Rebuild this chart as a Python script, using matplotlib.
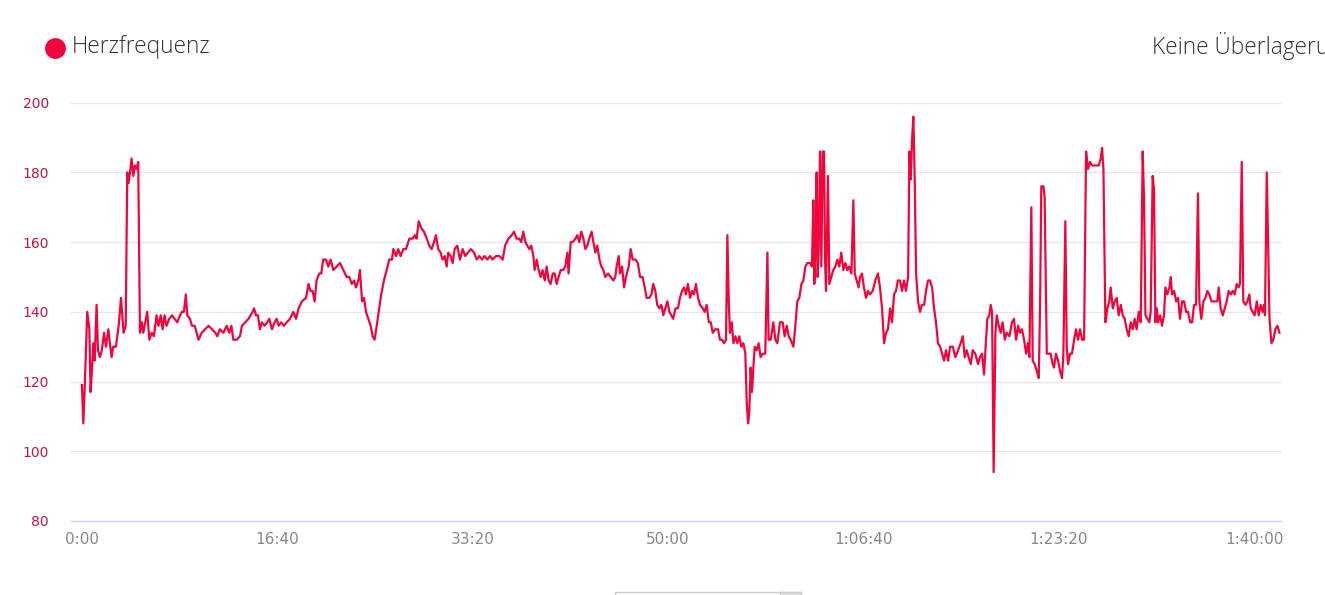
import matplotlib
matplotlib.use("Agg")
import matplotlib.pyplot as plt
from matplotlib.lines import Line2D
from matplotlib.patches import Rectangle

# Zeit in Sekunden seit Start, Herzfrequenz in bpm
zeit_s = [
    0, 7, 14, 27, 38, 44, 51, 58, 65, 75,
    82, 92, 102, 113, 123, 135, 143, 152, 160, 174,
    188, 200, 213, 224, 232, 239, 246, 254, 263, 271,
    280, 288, 297, 307, 314, 324, 334, 345, 357, 368,
    382, 392, 403, 413, 423, 433, 447, 461, 474, 488,
    502, 512, 522, 532, 539, 553, 563, 577, 587, 597,
    613, 630, 648, 666, 683, 693, 706, 724, 741, 754,
    765, 775, 792, 809, 819, 836, 853, 863, 874, 881,
    891, 901, 911, 921, 935, 949, 959, 973, 986, 997,
    1007, 1020, 1034, 1048, 1065, 1082, 1096, 1109, 1126, 1147,
    1160, 1170, 1181, 1191, 1201, 1215, 1225, 1235, 1249, 1261,
    1273, 1287, 1304,
    1321, 1338, 1355, 1369, 1381, 1393, 1403, 1415, 1423, 1434,
    1444, 1454, 1466, 1478, 1488, 1498, 1509, 1522, 1532, 1546,
    1560, 1573, 1587, 1594, 1608, 1619, 1631, 1645, 1659, 1676,
    1693, 1705, 1713, 1724, 1737, 1751, 1765, 1778, 1790, 1802,
    1812, 1824, 1836, 1846, 1857, 1867, 1875, 1887, 1898, 1908,
    1921, 1935, 1949, 1962, 1976, 1991, 2007, 2021, 2034, 2048,
    2061, 2075, 2089, 2102, 2119, 2137, 2154, 2166, 2183, 2200,
    2212, 2225, 2239, 2249, 2259, 2270, 2280, 2290, 2300, 2311,
    2317, 2328, 2338, 2348, 2358, 2369, 2379, 2389, 2399, 2410,
    2420, 2430, 2440, 2451, 2464, 2474, 2485, 2491, 2502, 2512,
    2526, 2536, 2546, 2556, 2567, 2577, 2587, 2597, 2609, 2618,
    2628, 2638, 2649, 2659, 2669, 2679, 2693, 2707, 2720, 2730,
    2737, 2748, 2754, 2765, 2775, 2785, 2799, 2809, 2819, 2833,
    2846, 2857, 2870, 2881, 2891, 2904, 2915, 2925, 2935, 2945,
    2956, 2966, 2976, 2986, 2997, 3007, 3017, 3027, 3038, 3051,
    3061, 3072, 3082, 3092, 3102, 3113, 3123, 3133, 3143, 3154,
    3164, 3178, 3188, 3198, 3209, 3219, 3229, 3242, 3256, 3266,
    3277, 3287, 3297, 3304, 3311, 3317, 3326, 3335, 3345, 3355,
    3365, 3375, 3386, 3396, 3403, 3410, 3416, 3423, 3430, 3437,
    3444, 3454, 3464, 3474, 3485, 3498, 3509, 3515, 3526, 3539,
    3550, 3560, 3573, 3587, 3597, 3608, 3618, 3628, 3642, 3652,
    3662, 3672, 3683, 3693, 3703, 3713, 3727, 3737, 3744, 3749,
    3754, 3761, 3766, 3771, 3778, 3785, 3792, 3799, 3804, 3809,
    3814, 3819, 3826, 3836, 3846, 3857, 3867, 3877, 3887, 3898,
    3908, 3918, 3928, 3939, 3949, 3956, 3966, 3976, 3983, 3993,
    4003, 4014, 4024, 4034, 4048, 4061, 4075, 4085, 4096, 4106,
    4116, 4126, 4137, 4147, 4157, 4167, 4177, 4188, 4198, 4208,
    4218, 4229, 4236, 4242, 4249, 4256, 4263, 4270, 4280, 4290,
    4300, 4311, 4321, 4331, 4341, 4352, 4362, 4372, 4382, 4393,
    4403, 4413, 4423, 4434, 4444, 4458, 4471, 4485, 4498, 4509,
    4519, 4529, 4539, 4550, 4560, 4573, 4587,
    4597, 4608, 4618, 4628, 4635, 4645, 4652, 4659, 4667, 4676,
    4683, 4693, 4703, 4713, 4724, 4734, 4748, 4761, 4771, 4782,
    4792, 4802, 4812, 4823, 4833, 4843, 4850, 4860, 4867, 4877,
    4888, 4898, 4905, 4911, 4922, 4928, 4939, 4949, 4959, 4969,
    4976, 4986, 4997, 5007, 5017, 5024, 5034, 5041, 5048, 5058,
    5068, 5079, 5089, 5099, 5109, 5120, 5130, 5140, 5150, 5161,
    5171, 5186, 5205, 5215, 5222, 5229, 5239, 5249, 5259, 5266,
    5277, 5287, 5297, 5307, 5318, 5328, 5338, 5348, 5358, 5369,
    5379, 5389, 5399, 5410, 5420, 5430, 5437, 5444, 5454, 5464,
    5471, 5481, 5488, 5495, 5502, 5509, 5519, 5529, 5539, 5546,
    5556, 5567, 5574, 5580, 5591, 5601, 5611, 5621, 5632, 5642,
    5652, 5662, 5673, 5683, 5693, 5703, 5713, 5720, 5730, 5741,
    5751, 5761, 5771, 5782, 5792, 5802, 5812, 5819, 5829, 5840,
    5850, 5860, 5870, 5881, 5891, 5901, 5911, 5921, 5928, 5937,
    5945, 5956, 5966, 5976, 5983, 5993, 6003, 6014, 6024, 6034,
    6044, 6051, 6056, 6065, 6072, 6079, 6089, 6099, 6109, 6120,
    6130,
]

herzfrequenz = [
    119, 108, 118, 140, 135, 117, 123, 131, 126, 142,
    129, 127, 129, 134, 130, 135, 131, 127, 130, 130,
    136, 144, 134, 136, 180, 177, 180, 184, 179, 182,
    181, 183, 134, 137, 134, 137, 140, 132, 134, 133,
    139, 136, 139, 135, 139, 136, 138, 139, 138, 137,
    139, 140, 140, 145, 139, 138, 136, 136, 134, 132,
    134, 135, 136, 135, 134, 133, 135, 134, 136, 134,
    136, 132, 132, 133, 136, 137, 138, 139, 140, 141,
    139, 139, 135, 137, 136, 137, 138, 135, 137, 138,
    136, 137, 136, 137, 138, 140, 138, 141, 143, 144,
    148, 146, 146, 143, 149, 151, 151, 155, 155, 153,
    155, 152, 153,
    154, 152, 150, 150, 148, 149, 147, 149, 152, 143,
    144, 140, 138, 136, 133, 132, 136, 141, 145, 149,
    152, 155, 155, 158, 156, 158, 156, 158, 158, 161,
    161, 162, 161, 166, 164, 163, 161, 159, 158, 160,
    162, 158, 157, 155, 156, 153, 157, 156, 154, 158,
    159, 155, 158, 156, 157, 158, 157, 155, 156, 155,
    156, 155, 156, 155, 156, 156, 155, 159, 161, 162,
    163, 161, 161, 160, 163, 160, 159, 158, 159, 156,
    152, 155, 152, 150, 152, 149, 153, 149, 148, 151,
    151, 148, 150, 152, 152, 153, 157, 151, 160, 160,
    161, 162, 160, 163, 161, 158, 159, 161, 163, 160,
    157, 159, 155, 153, 152, 150, 151, 150, 149, 150,
    153, 156, 151, 153, 147, 150, 153, 158, 155, 155,
    154, 150, 150, 147, 144, 144, 145, 148, 146, 142,
    141, 142, 139, 141, 143, 140, 139, 138, 141, 141,
    144, 146, 147, 145, 148, 144, 146, 145, 148, 144,
    142, 141, 140, 142, 137, 137, 134, 135, 135, 132,
    132, 131, 132, 162, 143, 134, 137, 131, 133, 131,
    133, 130, 131, 128, 114, 108, 111, 124, 117, 124,
    130, 129, 131, 127, 128, 128, 157, 132, 132, 137,
    132, 131, 137, 137, 133, 136, 133, 132, 130, 136,
    143, 144, 148, 149, 153, 154, 154, 153, 172, 148,
    156, 180, 150, 158, 186, 153, 186, 186, 155, 146,
    163, 179, 148, 150, 152, 153, 155, 153, 157, 152,
    154, 152, 153, 151, 172, 151, 149, 147, 150, 151,
    147, 144, 146, 145, 146, 149, 151, 147, 141, 131,
    134, 135, 141, 137, 145, 146, 149, 149, 146, 149,
    146, 150, 186, 178, 189, 196, 178, 151, 143, 140,
    142, 142, 146, 149, 149, 147, 141, 137, 131, 130,
    128, 126, 129, 126, 130, 130, 127, 129, 131, 133,
    127, 129, 127, 125, 129, 128, 125,
    127, 128, 122, 132, 138, 139, 142, 140, 94, 134,
    139, 136, 134, 137, 132, 134, 133, 137, 138, 132,
    136, 134, 135, 132, 128, 131, 127, 170, 126, 125,
    123, 121, 143, 176, 176, 173, 128, 128, 128, 125,
    124, 128, 126, 123, 121, 128, 166, 130, 125, 128,
    128, 132, 135, 132, 135, 132, 132, 186, 181, 183,
    182, 182, 182, 184, 187, 181, 137, 141, 143, 147,
    141, 143, 144, 139, 142, 139, 138, 135, 133, 137,
    135, 138, 135, 140, 137, 186, 172, 139, 138, 137,
    140, 179, 175, 137, 141, 137, 139, 136, 139, 147,
    145, 147, 150, 145, 146, 143, 144, 138, 143, 143,
    140, 140, 137, 137, 142, 142, 174, 143, 138, 143,
    144, 146, 145, 143, 143, 143, 143, 147, 141, 139,
    141, 143, 146, 145, 146, 145, 148, 147, 148, 183,
    143, 142, 143, 145, 141, 140, 139, 143, 139, 142,
    140, 142, 139, 180, 160, 138, 131, 132, 135, 136,
    134,
]

x_ticks = [0, 1000, 2000, 3000, 4000, 5000, 6000]
x_labels = ["0:00", "16:40", "33:20", "50:00", "1:06:40", "1:23:20", "1:40:00"]
y_ticks = [80, 100, 120, 140, 160, 180, 200]

rot = "#f0063c"

W, H = 1325, 595
fig = plt.figure(figsize=(W / 100, H / 100), dpi=100)
ax = fig.add_axes([71 / W, 1 - 521 / H, (1281 - 71) / W, (521 - 102.7) / H])

ax.plot(zeit_s, herzfrequenz, color=rot, lw=1.6, solid_joinstyle="round", zorder=3)

ax.set_xlim(-56, 6138)
ax.set_ylim(80, 200)
ax.set_xticks(x_ticks)
ax.set_xticklabels(x_labels)
ax.set_yticks(y_ticks)

ax.grid(axis="y", color="#e6e6e6", lw=1)
ax.set_axisbelow(True)
for s in ["top", "right", "left"]:
    ax.spines[s].set_visible(False)
ax.spines["bottom"].set_color("#ccd6eb")
ax.spines["bottom"].set_linewidth(1)
ax.tick_params(axis="x", length=0, pad=8, labelsize=11, labelcolor="#888888")
ax.tick_params(axis="y", length=0, pad=16, labelsize=10, labelcolor="#c8143c")

# Legende oben links
fig.add_artist(Line2D([55 / W], [1 - 48 / H], marker="o", markersize=14,
                      color=rot, transform=fig.transFigure))
fig.text(72 / W, 1 - 47 / H, "Herzfrequenz", fontsize=16.3, family="Open Sans",
         fontweight="light", color="#333333", va="center")
# rechts oben, wie im Original am Bildrand angeschnitten
fig.text(1152 / W, 1 - 46 / H, "Keine Überlagerung", fontsize=16.3, family="Open Sans",
         fontweight="light", color="#333333", va="center")

# angeschnittenes Auswahlfeld unten
fig.add_artist(Rectangle((615 / W, 0), (801 - 615) / W, (H - 591.5) / H,
                         transform=fig.transFigure, fill=False, ec="#cccccc", lw=1))
fig.add_artist(Rectangle((780 / W, 0), (801 - 780) / W, (H - 591.5) / H,
                         transform=fig.transFigure, fc="#e0e0e0", ec="#cccccc", lw=1))

fig.savefig("out.png", dpi=100)
